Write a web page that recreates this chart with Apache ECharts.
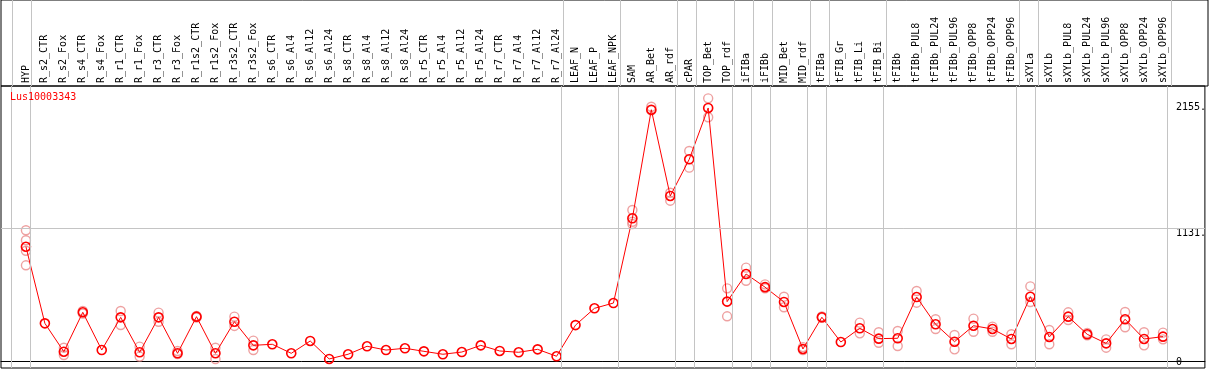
<!DOCTYPE html>
<html>
<head>
<meta charset="utf-8">
<script src="https://cdn.jsdelivr.net/npm/echarts@6/dist/echarts.min.js"></script>
<style>html,body{margin:0;padding:0;background:#fff;}#c{width:1209px;height:370px;}</style>
</head>
<body>
<div id="c"></div>
<script>
const categories = ["HYP","R_s2_CTR","R_s2_Fox","R_s4_CTR","R_s4_Fox","R_r1_CTR","R_r1_Fox","R_r3_CTR","R_r3_Fox","R_r1s2_CTR","R_r1s2_Fox","R_r3s2_CTR","R_r3s2_Fox","R_s6_CTR","R_s6_Al4","R_s6_Al12","R_s6_Al24","R_s8_CTR","R_s8_Al4","R_s8_Al12","R_s8_Al24","R_r5_CTR","R_r5_Al4","R_r5_Al12","R_r5_Al24","R_r7_CTR","R_r7_Al4","R_r7_Al12","R_r7_Al24","LEAF_N","LEAF_P","LEAF_NPK","SAM","AR_Bet","AR_rdf","cPAR","TOP_Bet","TOP_rdf","iFIBa","iFIBb","MID_Bet","MID_rdf","tFIBa","tFIB_Gr","tFIB_Li","tFIB_Bi","tFIBb","tFIBb_PUL8","tFIBb_PUL24","tFIBb_PUL96","tFIBb_OPP8","tFIBb_OPP24","tFIBb_OPP96","sXYLa","sXYLb","sXYLb_PUL8","sXYLb_PUL24","sXYLb_PUL96","sXYLb_OPP8","sXYLb_OPP24","sXYLb_OPP96"];
const seriesName = "Lus10003343";
const meanValues = [974,322,81,416,95,373,76,373,67,379,67,336,135,144,67,172,19,59,127,95,110,84,59,78,135,87,76,101,42,307,450,495,1216,2140,1406,1718,2155,507,742,630,504,104,374,163,280,192,195,546,314,166,302,274,189,549,206,379,229,152,357,189,209];
const rep1 = [1114,null,115,427,null,427,124,413,87,385,115,379,175,null,null,null,null,null,null,null,null,null,null,null,null,null,null,null,null,null,null,null,1287,2165,1434,1789,2237,620,796,654,549,120,380,null,328,246,257,597,357,223,362,294,229,637,266,416,240,186,419,246,243];
const rep2 = [816,null,53,405,null,308,39,336,60,372,19,300,95,null,null,null,null,null,null,null,null,null,null,null,null,null,null,null,null,null,null,null,1168,2135,1366,1647,2076,382,685,620,459,95,370,null,237,157,129,498,274,101,251,251,144,504,144,351,220,115,289,135,186];
const rep3 = [1029,null,null,null,null,null,null,null,null,null,null,null,null,null,null,null,null,null,null,null,null,null,null,null,null,null,null,null,null,null,null,null,1187,null,null,null,null,null,null,null,null,null,null,null,null,null,null,null,null,null,null,null,null,null,null,null,null,null,null,null,null];
const rep4 = [940,null,null,null,null,null,null,null,null,null,null,null,null,null,null,null,null,null,null,null,null,null,null,null,null,null,null,null,null,null,null,null,null,null,null,null,null,null,null,null,null,null,null,null,null,null,null,null,null,null,null,null,null,null,null,null,null,null,null,null,null];
const yTickLabels = [0, 1131, 2155];
const refLineValue = 1131;
// group separators placed after these category indices
const separatorsAfter = [-1,0,28,31,34,35,37,38,39,41,42,45,52,53,60];

const FONT = "DejaVu Sans Mono";
const RED = "#ff0000";
const PINK = "#ea8a8a";
const GRAY = "#c4c4c4";

const xMin = -1.3158, xMax = 62.2105;
const idx = categories.map((_, i) => i);
const pairs = arr => arr.map((v, i) => v == null ? null : [i, v]).filter(p => p);
const sepLines = separatorsAfter.map(k => ({ xAxis: k + 0.25 }));

const repSeries = [rep1, rep2, rep3, rep4].map(r => ({
  type: 'scatter', xAxisIndex: 1, yAxisIndex: 1, data: pairs(r),
  symbol: 'circle', symbolSize: 9, silent: true, z: 2,
  itemStyle: { color: 'rgba(0,0,0,0)', borderColor: PINK, borderWidth: 1.4 }
}));

const chart = echarts.init(document.getElementById('c'), null, { renderer: 'canvas' });
chart.setOption({
  animation: false,
  backgroundColor: '#fff',
  title: { text: seriesName, left: 10, top: 92, padding: 0,
    textStyle: { color: RED, fontSize: 10, fontWeight: 'normal', fontFamily: FONT } },
  grid: [
    { left: 1, right: 1, top: 0, height: 86, show: true, borderColor: '#000', borderWidth: 1, backgroundColor: 'transparent' },
    { left: 1, right: 1, top: 86, bottom: 2, show: true, borderColor: '#000', borderWidth: 1, backgroundColor: 'transparent' }
  ],
  xAxis: [
    { type: 'value', gridIndex: 0, min: xMin, max: xMax, show: false },
    { type: 'value', gridIndex: 1, min: xMin, max: xMax, position: 'top',
      axisLine: { show: true, lineStyle: { color: '#000', width: 1 } },
      axisTick: { show: false }, splitLine: { show: false },
      axisLabel: { customValues: idx, rotate: 90, margin: 3, fontSize: 10, fontFamily: FONT, color: '#000',
        formatter: v => categories[Math.round(v)] } }
  ],
  yAxis: [
    { type: 'value', gridIndex: 0, min: 0, max: 1, show: false },
    { type: 'value', gridIndex: 1, min: -57.9, max: 2342, position: 'right',
      axisLine: { show: false }, axisTick: { show: false }, splitLine: { show: false },
      axisLabel: { customValues: yTickLabels, inside: true, align: 'left', margin: 29, fontSize: 10, fontFamily: FONT, color: '#000',
        formatter: v => v === 0 ? '{z|0}' : (v === refLineValue ? '{m|' + v + '.}' : '{t|' + v + '.}'),
        rich: { z: { fontSize: 10, fontFamily: FONT, padding: [2, 0, 0, 0] },
                m: { fontSize: 10, fontFamily: FONT, padding: [10, 0, 0, 0] },
                t: { fontSize: 10, fontFamily: FONT, padding: [0, 0, 2, 0] } } }
    }
  ],
  series: [
    { type: 'line', xAxisIndex: 0, yAxisIndex: 0, data: [], silent: true,
      markLine: { silent: true, symbol: ['none', 'none'], label: { show: false },
        lineStyle: { color: GRAY, width: 1, type: 'solid' }, data: sepLines } },
    { type: 'line', xAxisIndex: 1, yAxisIndex: 1, data: [], silent: true, z: 1,
      markLine: { silent: true, symbol: ['none', 'none'], label: { show: false },
        lineStyle: { color: GRAY, width: 1, type: 'solid' }, data: sepLines.concat([{ yAxis: refLineValue }]) } },
    ...repSeries,
    { type: 'line', name: seriesName, xAxisIndex: 1, yAxisIndex: 1, data: pairs(meanValues),
      symbol: 'circle', symbolSize: 9, showAllSymbol: true, silent: true, z: 3,
      lineStyle: { color: RED, width: 1 },
      itemStyle: { color: 'rgba(0,0,0,0)', borderColor: RED, borderWidth: 1.6 } }
  ]
});
</script>
</body>
</html>
